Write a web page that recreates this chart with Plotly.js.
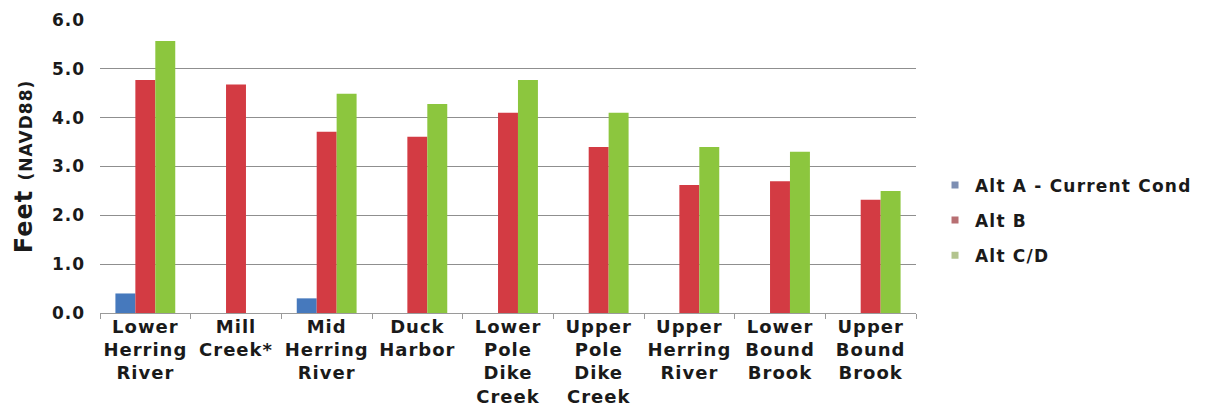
<!DOCTYPE html>
<html>
<head>
<meta charset="utf-8">
<script src="https://cdn.plot.ly/plotly-3.0.1.min.js"></script>
<style>
  html, body { margin: 0; padding: 0; background: #ffffff; }
  #chart { width: 1219px; height: 407px; }
  .xtick text, .ytick text { letter-spacing: 1px; }
  .legendtext { letter-spacing: 1.2px; }
  .ytitle { letter-spacing: 1px; }
</style>
</head>
<body>
<div id="chart"></div>
<script>
const categories = [
  "Lower<br>Herring<br>River",
  "Mill<br>Creek*",
  "Mid<br>Herring<br>River",
  "Duck<br>Harbor",
  "Lower<br>Pole<br>Dike<br>Creek",
  "Upper<br>Pole<br>Dike<br>Creek",
  "Upper<br>Herring<br>River",
  "Lower<br>Bound<br>Brook",
  "Upper<br>Bound<br>Brook"
];
const altA = [0.4, null, 0.3, null, null, null, null, null, null];
const altB = [4.77, 4.68, 3.71, 3.61, 4.10, 3.40, 2.62, 2.70, 2.32];
const altCD = [5.57, null, 4.49, 4.28, 4.77, 4.10, 3.40, 3.30, 2.50];
const seriesNames = ["Alt A - Current Cond", "Alt B", "Alt C/D"];
const seriesColors = ["#4679bd", "#d33b43", "#8cc63e"];
const legendColors = ["#7d8fb3", "#b86f72", "#b3c48e"];
const yTicks = [0, 1, 2, 3, 4, 5, 6];
const yTickLabels = ["0.0", "1.0", "2.0", "3.0", "4.0", "5.0", "6.0"];

const font = "DejaVu Sans, Verdana, sans-serif";
const series = [altA, altB, altCD];
const barTraces = series.map((vals, i) => ({
  type: "bar",
  name: seriesNames[i],
  x: categories,
  y: vals,
  showlegend: false,
  marker: { color: seriesColors[i], line: { width: 0 } },
  hoverinfo: "skip"
}));
const legendTraces = seriesNames.map((name, i) => ({
  type: "scatter",
  mode: "markers",
  name: name,
  x: [categories[0]],
  y: [null],
  legendgroup: "g" + i,
  marker: { symbol: "square", size: 7, color: legendColors[i] },
  hoverinfo: "skip"
}));

const layout = {
  width: 1219,
  height: 407,
  margin: { l: 100, r: 303, t: 20, b: 94 },
  paper_bgcolor: "#ffffff",
  plot_bgcolor: "#ffffff",
  barmode: "group",
  bargap: 0.34,
  bargroupgap: 0,
  font: { family: font, color: "#1a1a1a", weight: "bold" },
  xaxis: {
    type: "category",
    tickson: "boundaries",
    ticks: "outside",
    ticklen: 5,
    tickcolor: "#9a9a9a",
    showline: true,
    linecolor: "#9a9a9a",
    linewidth: 1,
    showgrid: false,
    tickangle: 0,
    ticklabelstandoff: -3,
    tickfont: { family: font, size: 18, color: "#1a1a1a", weight: "bold" },
    automargin: false
  },
  yaxis: {
    range: [0, 6],
    tickvals: yTicks,
    ticktext: yTickLabels,
    showgrid: true,
    gridcolor: "#8f8f8f",
    gridwidth: 1,
    zeroline: false,
    showline: false,
    ticks: "",
    ticklabelstandoff: 14,
    tickfont: { family: font, size: 17, color: "#1a1a1a", weight: "bold" },
    title: {
      text: "Feet <span style='font-size:17px'>(NAVD88)</span>",
      font: { family: font, size: 24, color: "#1a1a1a", weight: "bold" },
      standoff: 12
    },
    automargin: false
  },
  legend: {
    x: 1.0233,
    xanchor: "left",
    y: 0.497,
    yanchor: "top",
    font: { family: font, size: 17, color: "#1a1a1a", weight: "bold" },
    tracegroupgap: 10,
    bgcolor: "rgba(0,0,0,0)",
    itemclick: false
  },
  showlegend: true
};

Plotly.newPlot("chart", barTraces.concat(legendTraces), layout, { staticPlot: true, displayModeBar: false });
</script>
</body>
</html>
